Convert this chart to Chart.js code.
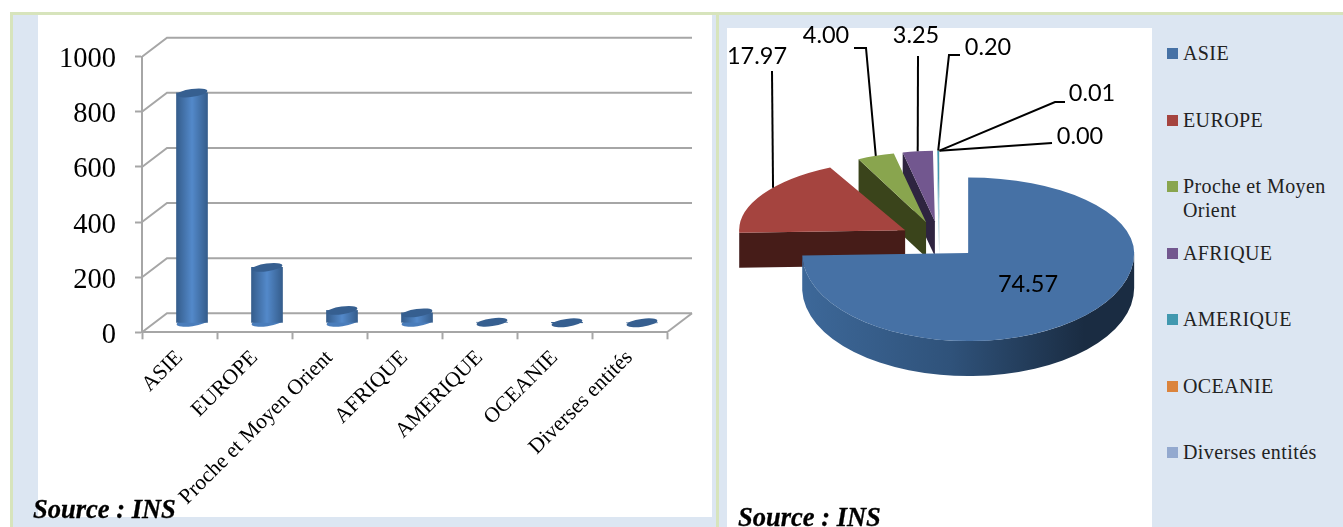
<!DOCTYPE html>
<html lang="fr">
<head>
    <meta charset="UTF-8">
    <title>Source : INS</title>
    <script src="https://cdn.jsdelivr.net/npm/chart.js"></script>
    <style>
        html, body {
            margin: 0;
            padding: 0;
            width: 1343px;
            height: 527px;
            overflow: hidden;
            background: #fff;
        }
        .panel {
            position: absolute;
            box-sizing: border-box;
            background: #dce6f2;
            border: 3px solid #d7e4bc;
        }
        #leftPanel { left: 10px; top: 12px; width: 709px; height: 530px; }
        #rightPanel { left: 716px; top: 12px; width: 640px; height: 530px; }
        .white {
            position: absolute;
            background: #fff;
        }
        #leftWhite { left: 38px; top: 15px; width: 674px; height: 502px; }
        #rightWhite { left: 727px; top: 28px; width: 425px; height: 499px; }
        canvas {
            position: absolute;
        }
        #barChart { left: 38px; top: 15px; }
        #pieChart { left: 727px; top: 16px; }
        .source {
            position: absolute;
            font: italic bold 26.5px "Liberation Serif", serif;
            -webkit-text-stroke: 0.3px #000;
            color: #000;
            white-space: nowrap;
        }
        #legend div {
            position: absolute;
            left: 1183px;
            width: 155px;
            font: 20px/24px "Liberation Serif", serif;
            letter-spacing: 0.4px;
            color: #222;
        }
        #legend span {
            position: absolute;
            left: -16px;
            top: 7px;
            width: 11px;
            height: 11px;
        }
    </style>
</head>
<body>
    <div class="panel" id="leftPanel"></div>
    <div class="panel" id="rightPanel"></div>
    <div class="white" id="leftWhite"></div>
    <div class="white" id="rightWhite"></div>

    <canvas id="barChart" width="674" height="502"></canvas>
    <canvas id="pieChart" width="425" height="511"></canvas>

    <div id="legend"></div>
    <div class="source" style="left:33px;top:494px">Source : INS</div>
    <div class="source" style="left:738px;top:502px">Source : INS</div>

    <script>
        const categories = ['ASIE', 'EUROPE', 'Proche et Moyen Orient', 'AFRIQUE', 'AMERIQUE', 'OCEANIE', 'Diverses entités'];
        const barValues = [834, 201, 45, 36, 2, 0.1, 0];
        const pieValues = [74.57, 17.97, 4.00, 3.25, 0.20, 0.01, 0.00];
        const yTicks = [0, 200, 400, 600, 800, 1000];

        const sliceColors = ['#4671a5', '#a5443f', '#89a54e', '#72578f', '#4198af', '#db843d', '#93a9cf'];
        const wallColors = ['#2f527a', '#461c18', '#3a441b', '#2e2440', '#a9d0dc', '#7a4a20', '#55637a'];

        // 3d box of the bar chart
        const backX = 25, backY = 19;

        const backWall = {
            id: 'backWall',
            beforeDatasetsDraw(chart) {
                const ctx = chart.ctx, y = chart.scales.y, area = chart.chartArea;
                ctx.save();
                ctx.strokeStyle = '#a6a6a6';
                ctx.lineWidth = 2;
                ctx.fillStyle = '#000';
                ctx.font = '28.5px "Liberation Serif"';
                ctx.textAlign = 'right';
                ctx.textBaseline = 'middle';
                yTicks.forEach(function (t) {
                    const py = y.getPixelForValue(t);
                    ctx.beginPath();
                    ctx.moveTo(area.left, py);
                    ctx.lineTo(area.left + backX, py - backY);
                    ctx.lineTo(area.right + backX, py - backY);
                    ctx.stroke();
                    ctx.fillText(String(t), area.left - 26, py + 3);
                });
                ctx.beginPath();
                ctx.moveTo(area.right, area.bottom);
                ctx.lineTo(area.right + backX, area.bottom - backY);
                ctx.stroke();
                ctx.restore();
            }
        };

        function tiltedCap(ctx, x, y, rx, color) {
            ctx.beginPath();
            ctx.ellipse(x, y, rx, 3.9, -8 * Math.PI / 180, 0, Math.PI * 2);
            ctx.fillStyle = color;
            ctx.fill();
        }

        // bars stand in the middle of the floor, with a round foot and top
        const cylinders = {
            id: 'cylinders',
            beforeDatasetDraw(chart, args) {
                const ctx = chart.ctx;
                ctx.save();
                ctx.translate(backX / 2, -backY / 2);
                args.meta.data.forEach(function (bar) {
                    if (bar.height > 1) {
                        tiltedCap(ctx, bar.x, bar.base, bar.width / 2, '#4a7dbb');
                    }
                });
            },
            afterDatasetDraw(chart, args) {
                const ctx = chart.ctx;
                args.meta.data.forEach(function (bar) {
                    tiltedCap(ctx, bar.x, bar.y, bar.width / 2, '#365f90');
                });
                ctx.restore();
            }
        };

        function cylinderFill(context) {
            const x = context.chart.scales.x.getPixelForValue(context.dataIndex);
            if (!isFinite(x)) return '#4f81bd';
            const half = 15.5;
            const g = context.chart.ctx.createLinearGradient(x - half, 0, x + half, 0);
            g.addColorStop(0, '#355d8c');
            g.addColorStop(0.5, '#5389ca');
            g.addColorStop(1, '#355d8c');
            return g;
        }

        new Chart(document.getElementById('barChart'), {
            type: 'bar',
            data: {
                labels: categories,
                datasets: [{
                    data: barValues,
                    backgroundColor: cylinderFill,
                    barThickness: 31,
                    clip: false
                }]
            },
            options: {
                responsive: false,
                animation: false,
                layout: { padding: { top: 41.7, right: 45 } },
                plugins: { legend: { display: false }, tooltip: { enabled: false } },
                scales: {
                    x: {
                        afterFit(scale) { scale.height = 184.7; },
                        border: { color: '#a6a6a6', width: 2 },
                        grid: { drawOnChartArea: false, tickColor: '#a6a6a6', tickLength: 7, tickWidth: 2 },
                        ticks: {
                            autoSkip: false,
                            minRotation: 45,
                            maxRotation: 45,
                            padding: 6,
                            color: '#000',
                            font: { family: 'Liberation Serif', size: 21.5 }
                        }
                    },
                    y: {
                        min: 0,
                        max: 1000,
                        afterFit(scale) { scale.width = 104; },
                        border: { color: '#a6a6a6', width: 2 },
                        grid: { drawOnChartArea: false, tickColor: '#a6a6a6', tickLength: 7, tickWidth: 2 },
                        ticks: {
                            stepSize: 200,
                            color: 'transparent',
                            font: { family: 'Liberation Serif', size: 28.5 }
                        }
                    }
                }
            },
            plugins: [backWall, cylinders]
        });

        // tilted, exploded pie: far half is flatter than the near half
        const farSquash = 0.425, nearSquash = 0.53, moveSquash = 0.47;
        const depth = 35, explodeBy = 40;

        // where each label and its leader sit, as canvas positions; along = spot on the slice's arc
        const pieLabels = [
            { text: '17.97', x: 30, y: 40, along: 0.6, path: [[45, 55]] },
            { text: '4.00', x: 99, y: 19, along: 0.5, path: [[139, 32], [127, 32]] },
            { text: '3.25', x: 189, y: 19, along: 0.5, path: [[191, 40]] },
            { text: '0.20', x: 261, y: 31, along: 0.5, path: [[222, 39], [233, 39]] },
            { text: '0.01', x: 365, y: 77, along: 0.5, path: [[328, 86], [338, 86]] },
            { text: '0.00', x: 353, y: 120, along: 0.5, path: [[325, 127]] }
        ];

        function sliceSquash(el, angle) {
            if (Math.sin(angle) > 0) return nearSquash;
            // the big slice keeps a rounder back edge
            return el.circumference > Math.PI ? 0.455 : farSquash;
        }

        // narrow slices at the back look a bit smaller
        function sliceWidth(el) {
            return el.circumference < 0.5 ? 0.9 : 1;
        }

        function arcApex(el) {
            const half = (el.startAngle + el.endAngle) / 2;
            return {
                x: el.x + Math.cos(half) * explodeBy,
                y: el.y + Math.sin(half) * explodeBy * moveSquash
            };
        }

        function onRim(el, angle) {
            const a = arcApex(el), r = el.outerRadius;
            return {
                x: a.x + Math.cos(angle) * r * sliceWidth(el),
                y: a.y + Math.sin(angle) * r * sliceSquash(el, angle)
            };
        }

        function drawWall(ctx, el, index) {
            const apex = arcApex(el), r = el.outerRadius;
            const p = onRim(el, el.startAngle);
            ctx.fillStyle = wallColors[index];
            ctx.beginPath();
            ctx.moveTo(p.x, p.y);
            ctx.lineTo(apex.x, apex.y);
            ctx.lineTo(apex.x, apex.y + depth);
            ctx.lineTo(p.x, p.y + depth);
            ctx.closePath();
            ctx.fill();

            // rim, only the near half of the pie shows it
            const from = Math.max(el.startAngle, 0), to = Math.min(el.endAngle, Math.PI);
            if (to > from) {
                const g = ctx.createLinearGradient(apex.x - r, 0, apex.x + r, 0);
                g.addColorStop(0, '#3d6899');
                g.addColorStop(0.45, '#2f527a');
                g.addColorStop(0.85, '#1a2c42');
                g.addColorStop(1, '#1a2c42');
                ctx.fillStyle = g;
                ctx.beginPath();
                ctx.ellipse(apex.x, apex.y, r, r * nearSquash, 0, from, to);
                ctx.ellipse(apex.x, apex.y + depth, r, r * nearSquash, 0, to, from, true);
                ctx.closePath();
                ctx.fill();
            }
        }

        function drawTop(ctx, el, above) {
            const apex = arcApex(el);
            const s = above ? sliceSquash(el, -1) : nearSquash;
            ctx.save();
            ctx.beginPath();
            ctx.rect(el.x - 400, above ? apex.y - 300 : apex.y - 0.5, 800, above ? 300 : 300.5);
            ctx.clip();
            ctx.translate(apex.x, apex.y);
            ctx.scale(sliceWidth(el), s);
            ctx.translate(-el.x, -el.y);
            el.draw(ctx);
            ctx.restore();
        }

        const tiltedPie = {
            id: 'tiltedPie',
            beforeDatasetDraw(chart, args) {
                const ctx = chart.ctx, arcs = args.meta.data;
                // back slices first so the big one ends up in front
                for (let i = arcs.length - 1; i >= 0; i--) {
                    const el = arcs[i];
                    if (el.circumference === 0) continue;
                    drawWall(ctx, el, i);
                    drawTop(ctx, el, false);
                    drawTop(ctx, el, true);
                }
                return false;
            },
            afterDatasetsDraw(chart) {
                const ctx = chart.ctx, arcs = chart.getDatasetMeta(0).data;
                ctx.save();
                ctx.font = '23.5px Lato';
                ctx.fillStyle = '#000';
                ctx.strokeStyle = '#000';
                ctx.lineWidth = 2;
                ctx.textAlign = 'center';
                ctx.textBaseline = 'middle';
                pieLabels.forEach(function (label, i) {
                    const el = arcs[i + 1];
                    const start = onRim(el, el.startAngle + (el.endAngle - el.startAngle) * label.along);
                    ctx.beginPath();
                    ctx.moveTo(start.x, start.y);
                    label.path.forEach(function (pt) { ctx.lineTo(pt[0], pt[1]); });
                    ctx.stroke();
                    ctx.fillText(label.text, label.x, label.y);
                });
                ctx.fillText(pieValues[0].toFixed(2), 301, 268);
                ctx.restore();
            }
        };

        new Chart(document.getElementById('pieChart'), {
            type: 'pie',
            data: {
                labels: categories,
                datasets: [{
                    data: pieValues,
                    backgroundColor: sliceColors,
                    borderWidth: 0,
                    radius: 166
                }]
            },
            options: {
                responsive: false,
                animation: false,
                layout: { padding: { bottom: 63 } },
                plugins: { legend: { display: false }, tooltip: { enabled: false } }
            },
            plugins: [tiltedPie]
        });

        // legend rows sit on a fixed pitch in the blue column
        const legend = document.getElementById('legend');
        categories.forEach(function (name, i) {
            const row = document.createElement('div');
            row.style.top = (41 + i * 66.5) + 'px';
            row.textContent = name;
            const swatch = document.createElement('span');
            swatch.style.background = sliceColors[i];
            row.appendChild(swatch);
            legend.appendChild(row);
        });
    </script>
</body>
</html>
